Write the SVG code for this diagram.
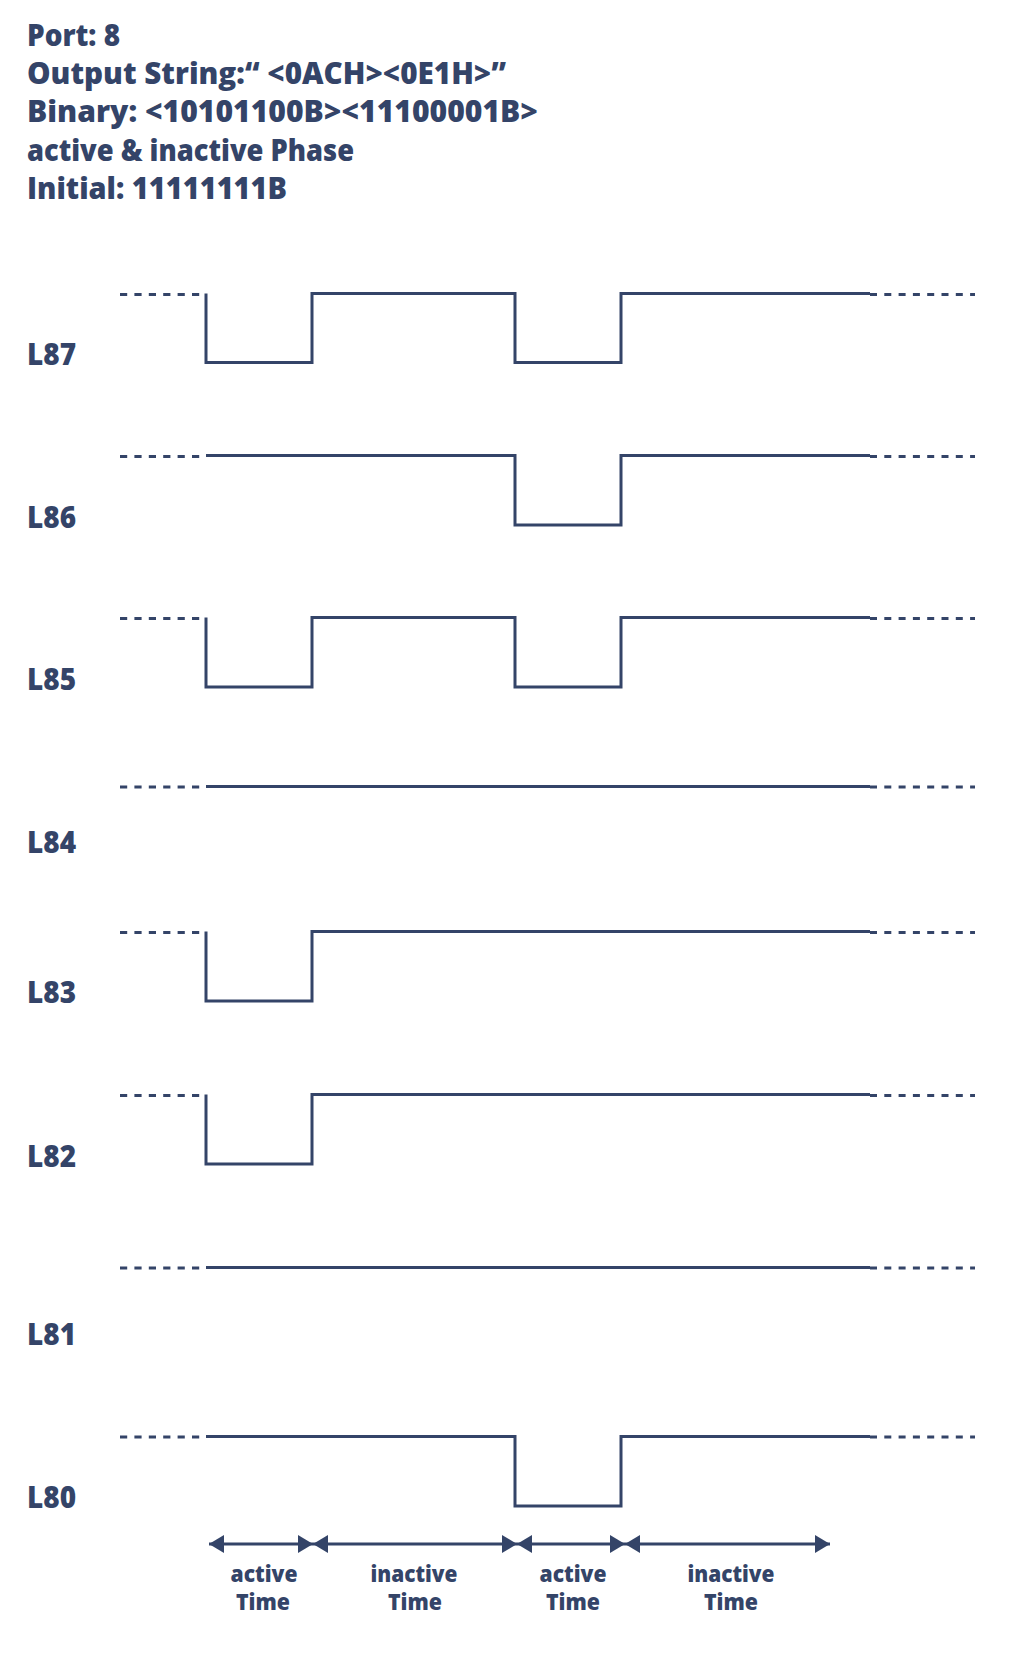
<svg xmlns="http://www.w3.org/2000/svg" width="1020" height="1670" viewBox="0 0 1020 1670">
<style>
text{font-family:"Open Sans","Liberation Sans",sans-serif;font-weight:800;fill:#344468}
.hdr{font-size:29.5px}
.lbl{font-size:30px}
.cap{font-size:22px;text-anchor:middle}
.wave{fill:none;stroke:#344468;stroke-width:3;stroke-linejoin:miter}
.dl{fill:none;stroke:#344468;stroke-width:3;stroke-dasharray:7.2 7.2}
.dr{fill:none;stroke:#344468;stroke-width:3;stroke-dasharray:7 7.3}
.arr{fill:none;stroke:#344468;stroke-width:3;marker-start:url(#ah);marker-end:url(#ah)}
</style>
<defs>
<marker id="ah" markerUnits="userSpaceOnUse" markerWidth="16" markerHeight="20" refX="15" refY="9" orient="auto-start-reverse" viewBox="0 0 16 20">
<path d="M0,0 L15,9 L0,18 z" fill="#344468"/>
</marker>
</defs>
<g id="header">
<text class="hdr" x="27" y="46" textLength="93" lengthAdjust="spacingAndGlyphs">Port: 8</text>
<text class="hdr" x="27" y="84" textLength="479" lengthAdjust="spacingAndGlyphs">Output String:“ &lt;0ACH&gt;&lt;0E1H&gt;”</text>
<text class="hdr" x="27" y="122" textLength="511" lengthAdjust="spacingAndGlyphs">Binary: &lt;10101100B&gt;&lt;11100001B&gt;</text>
<text class="hdr" x="27" y="161" textLength="327" lengthAdjust="spacingAndGlyphs">active &amp; inactive Phase</text>
<text class="hdr" x="27" y="199" textLength="260" lengthAdjust="spacingAndGlyphs">Initial: 11111111B</text>
</g>
<g id="L87">
<text class="lbl" x="27" y="365" textLength="49" lengthAdjust="spacingAndGlyphs">L87</text>
<path class="dl" d="M120,294.5 H206"/>
<path class="wave" d="M206,293.5 V362.5 H312 V293.5 H515 V362.5 H621 V293.5 H870"/>
<path class="dr" d="M870,294.5 H975"/>
</g>
<g id="L86">
<text class="lbl" x="27" y="528" textLength="49" lengthAdjust="spacingAndGlyphs">L86</text>
<path class="dl" d="M120,456.5 H206"/>
<path class="wave" d="M206,455.5 H515 V525 H621 V455.5 H870"/>
<path class="dr" d="M870,456.5 H975"/>
</g>
<g id="L85">
<text class="lbl" x="27" y="690" textLength="49" lengthAdjust="spacingAndGlyphs">L85</text>
<path class="dl" d="M120,618.5 H206"/>
<path class="wave" d="M206,617.5 V687 H312 V617.5 H515 V687 H621 V617.5 H870"/>
<path class="dr" d="M870,618.5 H975"/>
</g>
<g id="L84">
<text class="lbl" x="27" y="853" textLength="49" lengthAdjust="spacingAndGlyphs">L84</text>
<path class="dl" d="M120,787 H206"/>
<path class="wave" d="M206,786.5 H870"/>
<path class="dr" d="M870,787 H975"/>
</g>
<g id="L83">
<text class="lbl" x="27" y="1003" textLength="49" lengthAdjust="spacingAndGlyphs">L83</text>
<path class="dl" d="M120,932.5 H206"/>
<path class="wave" d="M206,931.5 V1001 H312 V931.5 H870"/>
<path class="dr" d="M870,932.5 H975"/>
</g>
<g id="L82">
<text class="lbl" x="27" y="1167" textLength="49" lengthAdjust="spacingAndGlyphs">L82</text>
<path class="dl" d="M120,1095.5 H206"/>
<path class="wave" d="M206,1094.5 V1164 H312 V1094.5 H870"/>
<path class="dr" d="M870,1095.5 H975"/>
</g>
<g id="L81">
<text class="lbl" x="27" y="1345" textLength="49" lengthAdjust="spacingAndGlyphs">L81</text>
<path class="dl" d="M120,1268 H206"/>
<path class="wave" d="M206,1267.5 H870"/>
<path class="dr" d="M870,1268 H975"/>
</g>
<g id="L80">
<text class="lbl" x="27" y="1508" textLength="49" lengthAdjust="spacingAndGlyphs">L80</text>
<path class="dl" d="M120,1437 H206"/>
<path class="wave" d="M206,1436.5 H515 V1506 H621 V1436.5 H870"/>
<path class="dr" d="M870,1437 H975"/>
</g>
<g id="connectors">
<line class="arr" x1="209" y1="1544" x2="313" y2="1544"/>
<line class="arr" x1="313" y1="1544" x2="517" y2="1544"/>
<line class="arr" x1="517" y1="1544" x2="625" y2="1544"/>
<line class="arr" x1="625" y1="1544" x2="830" y2="1544"/>
</g>
<g id="captions">
<text class="cap" x="264" y="1582" textLength="67" lengthAdjust="spacingAndGlyphs">active</text>
<text class="cap" x="263" y="1610" textLength="54" lengthAdjust="spacingAndGlyphs">Time</text>
<text class="cap" x="414" y="1582" textLength="87" lengthAdjust="spacingAndGlyphs">inactive</text>
<text class="cap" x="415" y="1610" textLength="54" lengthAdjust="spacingAndGlyphs">Time</text>
<text class="cap" x="573" y="1582" textLength="67" lengthAdjust="spacingAndGlyphs">active</text>
<text class="cap" x="573" y="1610" textLength="54" lengthAdjust="spacingAndGlyphs">Time</text>
<text class="cap" x="731" y="1582" textLength="87" lengthAdjust="spacingAndGlyphs">inactive</text>
<text class="cap" x="731" y="1610" textLength="54" lengthAdjust="spacingAndGlyphs">Time</text>
</g>
</svg>
